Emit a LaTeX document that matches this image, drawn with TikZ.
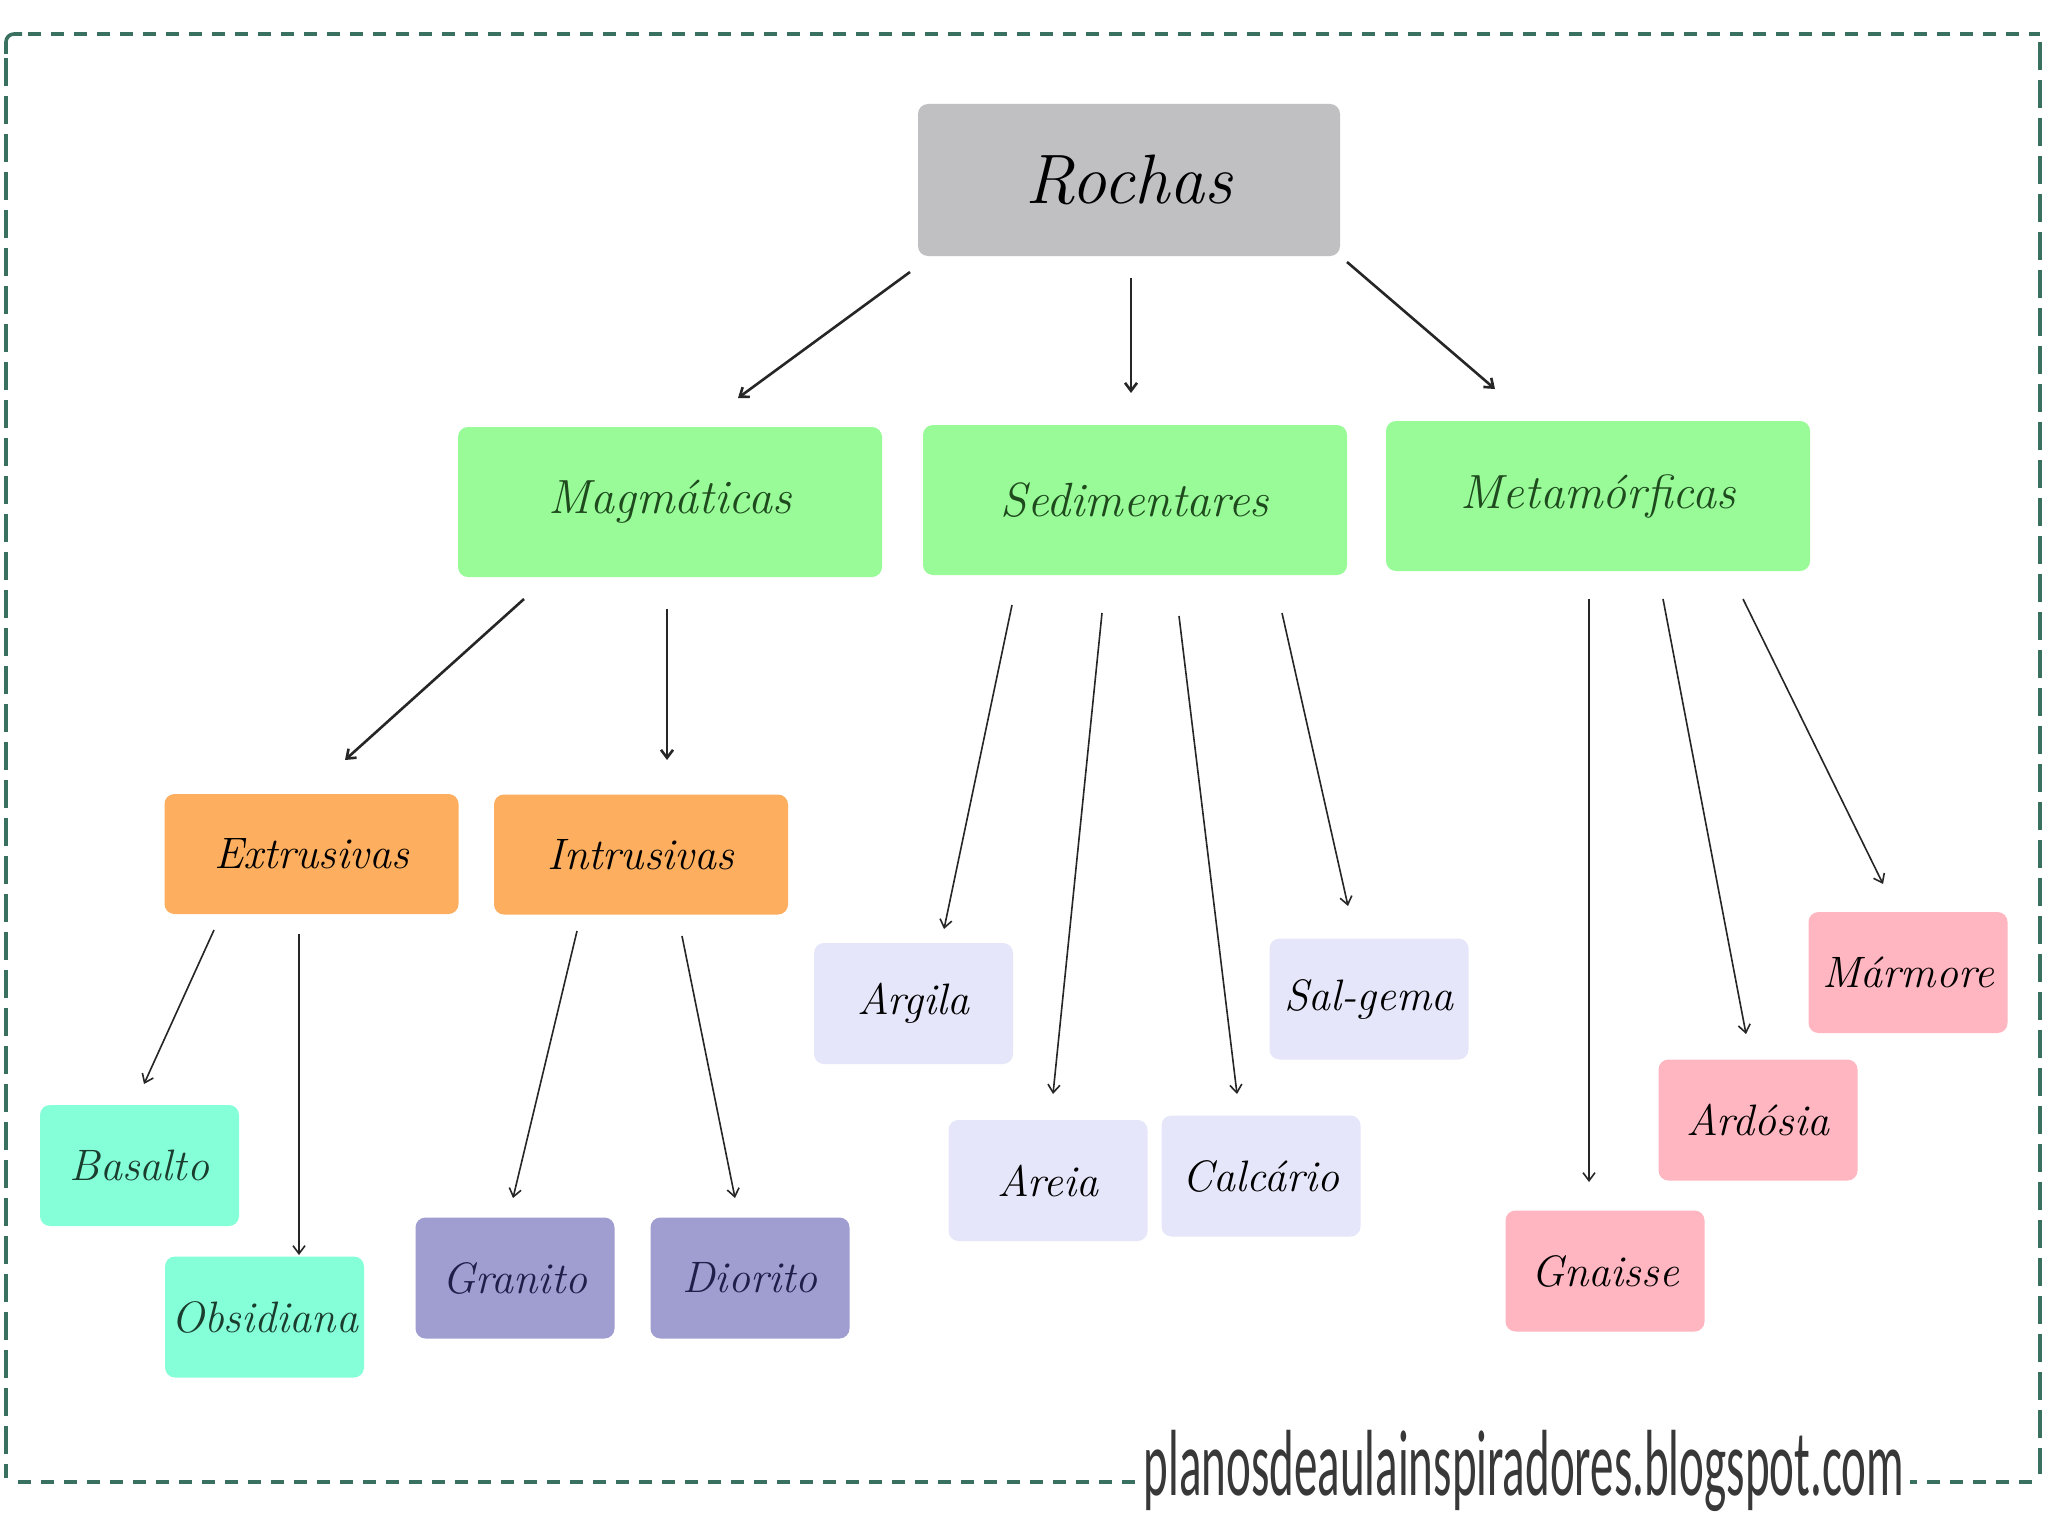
\documentclass[tikz,border=0pt]{standalone}
\usepackage{fontspec}
\newfontfamily\urlfont{Carlito}
\usetikzlibrary{arrows.meta}
\definecolor{cgray}{HTML}{C0BFC2}
\definecolor{cgreen}{HTML}{98FB98}
\definecolor{corange}{HTML}{FDAE5E}
\definecolor{caqua}{HTML}{84FFD8}
\definecolor{cpurple}{HTML}{A09DD1}
\definecolor{clav}{HTML}{E6E6FA}
\definecolor{cpink}{HTML}{FFB6C1}
\definecolor{cborder}{HTML}{3A7060}
\definecolor{tgreen}{HTML}{1E4A1E}
\definecolor{taqua}{HTML}{1B3D2E}
\definecolor{tnavy}{HTML}{1F1F4A}
\tikzset{
  box/.style={rounded corners=5pt, inner sep=0pt, font=\itshape\fontsize{22}{25}\selectfont},
  topbox/.style={box, fill=cgray, minimum width=211pt, minimum height=76pt, font=\itshape\fontsize{35}{38}\selectfont},
  midbox/.style={box, fill=cgreen, text=tgreen, minimum width=212pt, minimum height=75pt, font=\itshape\fontsize{24}{27}\selectfont},
  subbox/.style={box, fill=corange, minimum width=147pt, minimum height=60pt},
  leaf/.style={box, minimum width=99.5pt, minimum height=60.5pt},
  arr/.style={draw=black!85, line width=0.8pt, -{Straight Barb[length=4pt,width=6pt]}},
  bigarr/.style={arr, line width=1.3pt},
  hborder/.style={cborder, line width=2.4pt, dash pattern=on 6.5pt off 5pt},
  vborder/.style={cborder, line width=1.6pt, dash pattern=on 14pt off 5pt},
}
\begin{document}
\begin{tikzpicture}[x=0.5pt,y=-0.5pt]
\useasboundingbox (0,0) rectangle (2048,1536);
\fill[white] (0,0) rectangle (2048,1536);
\coordinate (tl) at (6,34);
\coordinate (tr) at (2040,34);
\coordinate (bl) at (6,1482);
\coordinate (br) at (2040,1482);
\draw[hborder] ([shift={(22,0)}]tl) -- (tr);
\draw[hborder] ([shift={(12,0)}]bl) -- ([shift={(-6,0)}]br);
\draw[vborder] ([shift={(0,24)}]tl) -- ([shift={(0,-4)}]bl);
\draw[vborder] ([shift={(0,8)}]tr) -- ([shift={(0,-8)}]br);
\draw[cborder, line width=1.8pt, rounded corners=4pt] ([shift={(0,20)}]tl) -- (tl) -- ([shift={(16,0)}]tl);

\node[topbox] (rochas) at (1129,180) {Rochas};
\node[midbox] (magm) at (670,502) {Magmáticas};
\node[midbox] (sed) at (1135,500) {Sedimentares};
\node[midbox] (meta) at (1598,496) {Metamórficas};
\node[subbox] (extr) at (311.5,854) {Extrusivas};
\node[subbox] (intr) at (641,854.5) {Intrusivas};
\node[leaf, fill=caqua, text=taqua] (basalto) at (139.5,1165.5) {Basalto};
\node[leaf, fill=caqua, text=taqua] (obsid) at (264.5,1317) {Obsidiana};
\node[leaf, fill=cpurple, text=tnavy] (granito) at (515,1278) {Granito};
\node[leaf, fill=cpurple, text=tnavy] (diorito) at (750,1278) {Diorito};
\node[leaf, fill=clav] (argila) at (913.5,1003.5) {Argila};
\node[leaf, fill=clav] (areia) at (1048,1180.5) {Areia};
\node[leaf, fill=clav] (calc) at (1261,1176) {Calcário};
\node[leaf, fill=clav] (salg) at (1369,999) {Sal-gema};
\node[leaf, fill=cpink] (gnaisse) at (1605,1271) {Gnaisse};
\node[leaf, fill=cpink] (ardosia) at (1758,1120) {Ardósia};
\node[leaf, fill=cpink] (marmore) at (1908,972.5) {Mármore};

\draw[bigarr] ([shift={(-219,92)}]rochas.center) -- ([shift={(68,-104)}]magm.center);
\draw[bigarr] ([shift={(2,98)}]rochas.center) -- ([shift={(-4,-107)}]sed.center);
\draw[bigarr] ([shift={(218,82)}]rochas.center) -- ([shift={(-103,-107)}]meta.center);

\draw[bigarr] ([shift={(-146,97)}]magm.center) -- ([shift={(33.5,-94)}]extr.center);
\draw[bigarr] ([shift={(-3,107)}]magm.center) -- ([shift={(26,-94.5)}]intr.center);

\draw[arr] ([shift={(-97.5,76)}]extr.center) -- ([shift={(4.5,-81.5)}]basalto.center);
\draw[arr] ([shift={(-12.5,80)}]extr.center) -- ([shift={(34.5,-62)}]obsid.center);
\draw[arr] ([shift={(-64,76.5)}]intr.center) -- ([shift={(-2,-80)}]granito.center);
\draw[arr] ([shift={(41,81.5)}]intr.center) -- ([shift={(-15,-80)}]diorito.center);

\draw[arr] ([shift={(-123,105)}]sed.center) -- ([shift={(30.5,-74.5)}]argila.center);
\draw[arr] ([shift={(-33,113)}]sed.center) -- ([shift={(5,-86.5)}]areia.center);
\draw[arr] ([shift={(44,116)}]sed.center) -- ([shift={(-24,-82)}]calc.center);
\draw[arr] ([shift={(147,113)}]sed.center) -- ([shift={(-21,-93)}]salg.center);

\draw[arr] ([shift={(-9,103)}]meta.center) -- ([shift={(-16,-89)}]gnaisse.center);
\draw[arr] ([shift={(65,103)}]meta.center) -- ([shift={(-12,-86)}]ardosia.center);
\draw[arr] ([shift={(145,103)}]meta.center) -- ([shift={(-25,-88.5)}]marmore.center);

\node[fill=white, anchor=base, inner xsep=3pt, inner ysep=2pt, font=\urlfont\fontsize{47}{50}\selectfont, text=black!78] (url) at (1524,1495) {\scalebox{0.5}[1]{planosdeaulainspiradores.blogspot.com}};
\end{tikzpicture}
\end{document}
